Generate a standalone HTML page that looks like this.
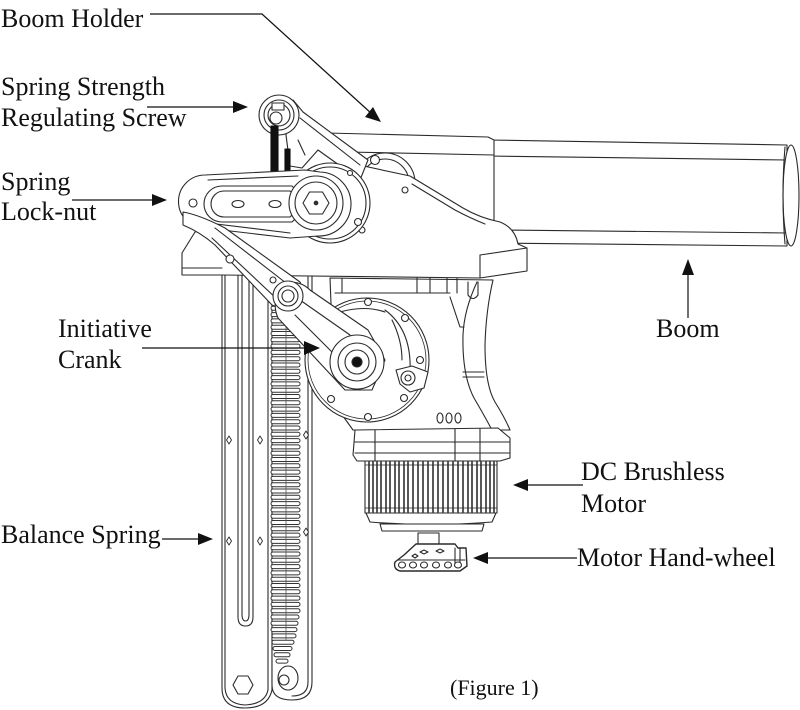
<!DOCTYPE html>
<html><head><meta charset="utf-8">
<style>
html,body{margin:0;padding:0;background:#fff;}
svg{display:block;}
text{font-family:"Liberation Serif","Times New Roman",serif;fill:#111;}
</style></head><body>
<svg width="800" height="710" viewBox="0 0 800 710" xmlns="http://www.w3.org/2000/svg">
<g fill="#fff" stroke="#2a2a2a" stroke-width="1.1" stroke-linejoin="round" stroke-linecap="round">

<!-- BOOM -->
<path d="M488,140 L787,145 L787,246 L488,243 Z"/>
<path d="M488,156 L787,160 M505,230 L787,233" fill="none"/>
<ellipse cx="791" cy="195.5" rx="8" ry="50.5"/>
<path d="M785,147 Q781,195 785,244" fill="none"/>

<!-- Boom holder back box -->
<path d="M327,133 L488,137 L494,140 L494,250 L400,250 L327,150 Z"/>
<path d="M347,152 L494,155" fill="none"/>

<!-- RAILS: left plate -->
<path d="M222,270 L222,688 Q222,708 245,708 Q268,708 272,690 L272,270 Z"/>
<path d="M225,272 L225,688 Q226,704 245,705 Q265,704 268,690 L268,272" fill="none"/>
<path d="M238,272 L238,617 Q238,626 245.5,626 Q253,626 253,617 L253,272" fill="none"/>
<path d="M242,272 L242,614 Q242,621 245.5,621 Q249,621 249,614 L249,272" fill="none"/>
<!-- right plate -->
<path d="M272,275 L312,275 L312,682 Q312,700 292,700 Q272,700 272,685 Z"/>
<path d="M308,277 L308,682 Q308,696 292,696" fill="none"/>
<!-- spring coils -->
<g stroke="#333" stroke-width="1">
<rect x="271" y="300" width="29" height="4" rx="2"/><rect x="271" y="306.3" width="29" height="4" rx="2"/>
<rect x="271" y="312.6" width="29" height="4" rx="2"/><rect x="271" y="318.9" width="29" height="4" rx="2"/>
<rect x="271" y="325.2" width="29" height="4" rx="2"/><rect x="271" y="331.5" width="29" height="4" rx="2"/>
<rect x="271" y="337.8" width="29" height="4" rx="2"/><rect x="271" y="344.1" width="29" height="4" rx="2"/>
<rect x="271" y="350.4" width="29" height="4" rx="2"/><rect x="271" y="356.7" width="29" height="4" rx="2"/>
<rect x="271" y="363" width="29" height="4" rx="2"/><rect x="271" y="369.3" width="29" height="4" rx="2"/>
<rect x="271" y="375.6" width="29" height="4" rx="2"/><rect x="271" y="381.9" width="29" height="4" rx="2"/>
<rect x="271" y="388.2" width="29" height="4" rx="2"/><rect x="271" y="394.5" width="29" height="4" rx="2"/>
<rect x="271" y="400.8" width="29" height="4" rx="2"/><rect x="271" y="407.1" width="29" height="4" rx="2"/>
<rect x="271" y="413.4" width="29" height="4" rx="2"/><rect x="271" y="419.7" width="29" height="4" rx="2"/>
<rect x="271" y="426" width="29" height="4" rx="2"/><rect x="271" y="432.3" width="29" height="4" rx="2"/>
<rect x="271" y="438.6" width="29" height="4" rx="2"/><rect x="271" y="444.9" width="29" height="4" rx="2"/>
<rect x="271" y="451.2" width="29" height="4" rx="2"/><rect x="271" y="457.5" width="29" height="4" rx="2"/>
<rect x="271" y="463.8" width="29" height="4" rx="2"/><rect x="271" y="470.1" width="29" height="4" rx="2"/>
<rect x="271" y="476.4" width="29" height="4" rx="2"/><rect x="271" y="482.7" width="29" height="4" rx="2"/>
<rect x="271" y="489" width="29" height="4" rx="2"/><rect x="271" y="495.3" width="29" height="4" rx="2"/>
<rect x="271" y="501.6" width="29" height="4" rx="2"/><rect x="271" y="507.9" width="29" height="4" rx="2"/>
<rect x="271" y="514.2" width="29" height="4" rx="2"/><rect x="271" y="520.5" width="29" height="4" rx="2"/>
<rect x="271" y="526.8" width="29" height="4" rx="2"/><rect x="271" y="533.1" width="29" height="4" rx="2"/>
<rect x="271" y="539.4" width="29" height="4" rx="2"/><rect x="271" y="545.7" width="29" height="4" rx="2"/>
<rect x="271" y="552" width="29" height="4" rx="2"/><rect x="271" y="558.3" width="29" height="4" rx="2"/>
<rect x="271" y="564.6" width="29" height="4" rx="2"/><rect x="271" y="570.9" width="29" height="4" rx="2"/>
<rect x="271" y="577.2" width="29" height="4" rx="2"/><rect x="271" y="583.5" width="29" height="4" rx="2"/>
<rect x="271" y="589.8" width="29" height="4" rx="2"/><rect x="271" y="596.1" width="29" height="4" rx="2"/>
<rect x="271" y="602.4" width="29" height="4" rx="2"/><rect x="271" y="608.7" width="29" height="4" rx="2"/>
<rect x="271" y="615" width="28" height="4" rx="2"/><rect x="271" y="621.3" width="27" height="4" rx="2"/>
<rect x="271" y="627.6" width="26" height="4" rx="2"/><rect x="272" y="633.9" width="24" height="4" rx="2"/>
<rect x="272" y="640.2" width="22" height="4" rx="2"/><rect x="273" y="646.5" width="19" height="4" rx="2"/>
<rect x="274" y="652.8" width="16" height="4" rx="2"/><rect x="276" y="659.1" width="12" height="4" rx="2"/>
</g>
<path d="M286,300 L286,640" fill="none" stroke="#555" stroke-width="0.8"/>
<!-- bottom hook + hex -->
<ellipse cx="288" cy="678" rx="10" ry="12"/>
<circle cx="284" cy="680" r="5"/>
<polygon points="253,685 248,694 238,694 233,685 238,676 248,676"/>
<!-- diamonds -->
<g stroke-width="0.9">
<polygon points="229,436 231.5,440 229,444 226.5,440"/><polygon points="260,436 262.5,440 260,444 257.5,440"/>
<polygon points="306,431 308.5,435 306,439 303.5,435"/>
<polygon points="229,537 231.5,541 229,545 226.5,541"/><polygon points="260,537 262.5,541 260,545 257.5,541"/>
<polygon points="306,528 308.5,532 306,536 303.5,532"/>
</g>

<!-- MOTOR HOUSING -->
<path d="M330,278 L493,280 Q486,310 485,345 Q485,385 495,402 Q505,418 510,430 L353,430 L335,405 Z"/>
<path d="M477,282 Q464,310 463,335 Q462,375 474,398 Q484,415 492,430" fill="none"/>
<path d="M450,297 L460,327 L464,327 M335,293 L450,293 M342,278 L342,293 M417,278 L417,293 M430,278 L430,293 M447,278 L447,293 M457,278 L457,293" fill="none"/>
<path d="M468,282 L468,295 Q473,302 478,295 L478,282" fill="none"/>
<path d="M463,372 L484,372 M463,377 L484,377" fill="none"/>
<ellipse cx="440" cy="418" rx="3" ry="5"/><ellipse cx="449" cy="418" rx="3" ry="5"/><ellipse cx="458" cy="418" rx="3" ry="5"/>

<!-- flange -->
<path d="M355,430 L498,428 L510,438 L510,458 L500,461 L357,461 L353,455 Z"/>
<path d="M355,442 L510,442 M355,453 L510,453 M375,430 L375,461 M455,429 L455,461 M480,429 L480,461" fill="none"/>
<!-- motor cylinder -->
<rect x="365" y="461" width="132" height="52"/>
<g stroke="#222" stroke-width="1.5">
<path d="M369,462V512M373,462V512M377,462V512M381,462V512M386,462V512M390,462V512M395,462V512M399,462V512M404,462V512M408,462V512M413,462V512M418,462V512M423,462V512M428,462V512M433,462V512M438,462V512M443,462V512M448,462V512M453,462V512M458,462V512M463,462V512M468,462V512M472,462V512M477,462V512M481,462V512M486,462V512M490,462V512M494,462V512"/>
</g>
<path d="M365,465 L497,465 M365,508 L497,508" fill="none" stroke-width="0.8"/>
<path d="M366,513 L496,513 L492,522 Q430,527 370,522 Z"/>
<path d="M380,524 L484,524 L482,531 L382,531 Z"/>
<!-- hand wheel -->
<rect x="418" y="533" width="21" height="11"/>
<path d="M416,544 L455,544 L458,548 L466,548 L467,566 L460,571 L400,571 Q393,569 395,562 L404,555 Z" stroke-width="1.4"/>
<path d="M398,560 L465,560 M455,548 L455,566 M460,548 L460,566" fill="none"/>
<g stroke-width="1.1">
<ellipse cx="402" cy="565" rx="3.5" ry="3"/><ellipse cx="413" cy="565" rx="3.5" ry="3"/>
<ellipse cx="424" cy="565" rx="3.5" ry="3"/><ellipse cx="436" cy="565" rx="3.5" ry="3"/>
<ellipse cx="448" cy="565" rx="3.5" ry="3"/><ellipse cx="458" cy="565" rx="3.5" ry="3"/>
<path d="M420,552 l4,-2 l4,2 l-4,2z M436,551 l4,-2 l4,2 l-4,2z M412,556 l3,-2 l3,2 l-3,2z" />
</g>

<!-- disk behind top (behind holder) -->
<circle cx="385" cy="183" r="30"/>
<circle cx="385" cy="183" r="24" fill="none"/>
<circle cx="375" cy="160" r="4.5"/>

<!-- BOOM HOLDER front body -->
<path d="M182,253 L195,232 L250,218 L300,172 L345,162 L410,176 L463,208 Q480,218 500,222 Q515,228 518,244 L527,248 L527,271 L480,278 L222,275 L182,275 Z"/>
<path d="M480,255 L527,248 M480,255 L480,278 M182,268 L222,268" fill="none"/>
<path d="M412,184 L455,210 Q470,218 485,224" fill="none"/>
<circle cx="405" cy="190" r="3"/><circle cx="362" cy="230" r="3"/>

<!-- top pulley arm -->
<path d="M293,100 L303,112 L368,160 L360,180 L318,150 L302,168 L290,166 L286,135 Z"/>
<path d="M300,118 L360,165 M298,140 L305,155" fill="none"/>
<circle cx="279" cy="115" r="20"/>
<circle cx="279" cy="115" r="15" fill="none"/>
<circle cx="279" cy="115" r="11" fill="none"/>
<rect x="272" y="103" width="12" height="7"/>
<circle cx="276" cy="118" r="6"/>
<!-- black spring bars -->
<rect x="271" y="126" width="7" height="48" fill="#111" stroke="#111"/>
<rect x="285" y="149" width="5" height="25" fill="#111" stroke="#111"/>

<!-- big ring behind plate -->
<circle cx="330" cy="203" r="40"/>
<circle cx="330" cy="203" r="36" fill="none"/>
<circle cx="350" cy="173" r="2.5"/><circle cx="358" cy="222" r="3.5"/>

<!-- lock-nut plate -->
<path d="M205,175 L305,170 L320,172 A31,31 0 0 1 318,236 L290,238 L205,228 A26.5,26.5 0 0 1 205,175 Z"/>
<path d="M208,180 L298,176 M208,223 L290,233" fill="none"/>
<path d="M222,186 L292,186 L300,194 L300,214 L292,222 L222,222 A18,18 0 0 1 222,186 Z"/>
<path d="M224,191 L290,191 L295,196 L295,212 L290,217 L224,217 A13,13 0 0 1 224,191 Z" fill="none"/>
<ellipse cx="238" cy="204" rx="6" ry="3.5"/><ellipse cx="275" cy="204" rx="6" ry="3.5"/>
<circle cx="193" cy="203" r="4"/>
<circle cx="316" cy="203" r="27"/>
<circle cx="316" cy="203" r="21" fill="none"/>
<polygon points="329,203 322.5,214 309.5,214 303,203 309.5,192 322.5,192"/>
<circle cx="316" cy="203" r="1.8" fill="#333"/>

<!-- gear disk -->
<circle cx="367" cy="360" r="62"/>
<circle cx="367" cy="360" r="59" fill="none" stroke-width="0.8"/>
<g>
<circle cx="368" cy="302" r="3.5"/><circle cx="405" cy="318" r="3.5"/><circle cx="420" cy="360" r="3.5"/>
<circle cx="404" cy="398" r="3.5"/><circle cx="368" cy="417" r="3.5"/><circle cx="331" cy="399" r="3.5"/>
</g>
<path d="M385,310 Q412,330 410,372 M392,320 Q402,340 402,360 M340,312 Q365,305 385,312" fill="none"/>
<path d="M396,370 L412,366 L428,372 L424,388 L410,392 L400,384 Z"/>
<circle cx="408" cy="378" r="7"/><circle cx="408" cy="378" r="3"/>

<!-- lower link -->
<path d="M183,212 Q200,215 225,228 L300,282 L308,300 L290,312 L272,305 L215,245 Q200,232 183,225 Z"/>
<path d="M215,228 L295,290 M212,238 L278,300" fill="none"/>
<circle cx="230" cy="259" r="4"/><circle cx="273" cy="280" r="3"/>

<!-- crank arm -->
<path d="M285,283 Q300,280 310,290 L368,330 L385,360 L372,390 L345,390 L278,318 Q270,300 285,283 Z"/>
<path d="M300,300 L350,335 M295,315 L340,360" fill="none"/>
<circle cx="357" cy="362" r="27"/>
<circle cx="357" cy="362" r="19" fill="none"/>
<circle cx="357" cy="362" r="12" fill="none"/>
<circle cx="357" cy="362" r="5" fill="#111"/>
<circle cx="288" cy="296" r="15"/>
<circle cx="288" cy="296" r="10"/>
<circle cx="288" cy="296" r="6" fill="none"/>
</g>

<!-- CONNECTORS -->
<g stroke="#111" stroke-width="1.2" fill="none">
<path d="M150,14 L262,14 L372,114"/>
<path d="M147,107 L236,107"/>
<path d="M72,200 L155,200"/>
<path d="M142,348 L308,348"/>
<path d="M162,539 L200,539"/>
<path d="M688,318 L688,272"/>
<path d="M583,485 L526,485"/>
<path d="M577,558 L486,558"/>
</g>
<g fill="#111" stroke="none">
<polygon points="381,122 365,117 373,107"/>
<polygon points="248,107 233,101 233,113"/>
<polygon points="167,200 152,194 152,206"/>
<polygon points="320,348 304,341 304,355"/>
<polygon points="213,539 198,533 198,545"/>
<polygon points="688,259 682,275 694,275"/>
<polygon points="513,485 528,479 528,491"/>
<polygon points="473,558 488,552 488,564"/>
</g>

<!-- LABELS -->
<g font-size="26">
<text x="1" y="27">Boom Holder</text>
<text x="1" y="95">Spring Strength</text>
<text x="1" y="126">Regulating Screw</text>
<text x="1" y="190">Spring</text>
<text x="1" y="220">Lock-nut</text>
<text x="58" y="337">Initiative</text>
<text x="58" y="368">Crank</text>
<text x="1" y="543">Balance Spring</text>
<text x="656" y="337">Boom</text>
<text x="581" y="480">DC Brushless</text>
<text x="581" y="512">Motor</text>
<text x="577" y="566">Motor Hand-wheel</text>
</g>
<text x="450" y="695" font-size="22">(Figure 1)</text>
</svg>
</body></html>
